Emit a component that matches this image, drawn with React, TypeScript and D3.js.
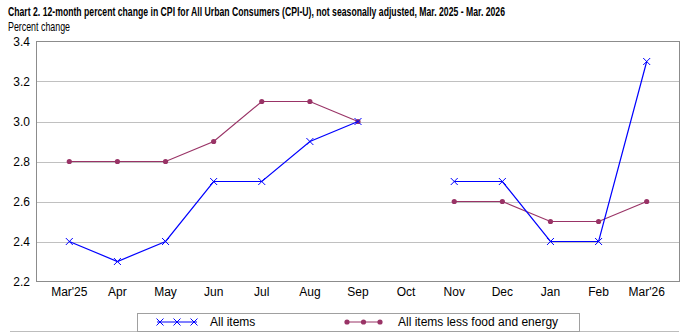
import React from "react";
import * as d3 from "d3";

const categories = ["Mar'25", "Apr", "May", "Jun", "Jul", "Aug", "Sep", "Oct", "Nov", "Dec", "Jan", "Feb", "Mar'26"];
const allItems: (number | null)[] = [2.4, 2.3, 2.4, 2.7, 2.7, 2.9, 3.0, null, 2.7, 2.7, 2.4, 2.4, 3.3];
const coreItems: (number | null)[] = [2.8, 2.8, 2.8, 2.9, 3.1, 3.1, 3.0, null, 2.6, 2.6, 2.5, 2.5, 2.6];
const yTicks = [2.2, 2.4, 2.6, 2.8, 3.0, 3.2, 3.4];
const seriesNames = ["All items", "All items less food and energy"];
const title = "Chart 2. 12-month percent change in CPI for All Urban Consumers (CPI-U), not seasonally adjusted, Mar. 2025 - Mar. 2026";
const yLabel = "Percent change";

const W = 691, H = 335;
const plotL = 36.5, plotR = 679.5, plotT = 41.5, plotB = 281.5;
const BLUE = "#0000ff";
const PURPLE = "#993366";
const FONT = "Arial, 'Liberation Sans', sans-serif";

export default function App() {
  const x = d3.scalePoint<string>().domain(categories).range([69.3, 646.7]);
  const y = d3.scaleLinear().domain([2.2, 3.4]).range([plotB, plotT]);
  const line = d3
    .line<number | null>()
    .defined((d) => d !== null)
    .x((_, i) => x(categories[i]) as number)
    .y((d) => y(d as number));

  const xMark = (cx: number, cy: number, k: string) => (
    <path key={k} d={`M${cx - 3.5},${cy - 3.5}L${cx + 3.5},${cy + 3.5}M${cx - 3.5},${cy + 3.5}L${cx + 3.5},${cy - 3.5}`} stroke={BLUE} strokeWidth={1} fill="none" />
  );

  const titleScale = 0.64;
  const labelScale = 0.8;

  return (
    <svg width={W} height={H} style={{ position: "absolute", left: 0, top: 0, background: "#fff" }} fontFamily={FONT}>
      <rect x={0} y={0} width={W} height={H} fill="#fff" />
      <text transform={`translate(8,16) scale(${titleScale},1)`} x={0} y={0} fontSize={13} fontWeight="bold" textLength={497 / titleScale} lengthAdjust="spacingAndGlyphs" fill="#000">{title}</text>
      <text transform={`translate(8,31) scale(${labelScale},1)`} x={0} y={0} fontSize={12.5} textLength={62 / labelScale} lengthAdjust="spacingAndGlyphs" fill="#000">{yLabel}</text>

      {yTicks.map((t) => (
        <g key={t}>
          {t > 2.2 && t < 3.4 && (
            <line x1={plotL} x2={plotR} y1={Math.round(y(t)) + 0.5} y2={Math.round(y(t)) + 0.5} stroke="#c0c0c0" strokeWidth={1} />
          )}
          <text x={30} y={y(t)} dy="0.35em" textAnchor="end" fontSize={12} fill="#000">{t.toFixed(1)}</text>
        </g>
      ))}
      <rect x={plotL} y={plotT} width={plotR - plotL} height={plotB - plotT} fill="none" stroke="#8c8c8c" strokeWidth={1} />

      {categories.map((c) => (
        <text key={c} x={x(c)} y={296} textAnchor="middle" fontSize={12} fill="#000">{c}</text>
      ))}

      <path d={line(coreItems) || ""} fill="none" stroke={PURPLE} strokeWidth={1.2} />
      {coreItems.map((v, i) => v !== null && (
        <circle key={"c" + i} cx={x(categories[i])} cy={y(v)} r={2.6} fill={PURPLE} />
      ))}
      <path d={line(allItems) || ""} fill="none" stroke={BLUE} strokeWidth={1.2} />
      {allItems.map((v, i) => v !== null && xMark(x(categories[i]) as number, y(v), "a" + i))}

      <line x1={10} x2={679} y1={331.5} y2={331.5} stroke="#bdbdbd" strokeWidth={1} />
      <rect x={137.5} y={313.5} width={442} height={18} fill="#fff" stroke="#a0a0a0" strokeWidth={1} />
      <line x1={157} x2={197} y1={322} y2={322} stroke={BLUE} strokeWidth={1} />
      {[160, 177, 194].map((cx) => xMark(cx, 322, "l" + cx))}
      <text x={210} y={326} fontSize={12} fill="#000">{seriesNames[0]}</text>
      <line x1={345} x2={382} y1={322} y2={322} stroke={PURPLE} strokeWidth={1} />
      {[347, 363.5, 380].map((cx) => (
        <circle key={"lc" + cx} cx={cx} cy={322} r={2.6} fill={PURPLE} />
      ))}
      <text x={398} y={326} fontSize={12} fill="#000">{seriesNames[1]}</text>
    </svg>
  );
}
